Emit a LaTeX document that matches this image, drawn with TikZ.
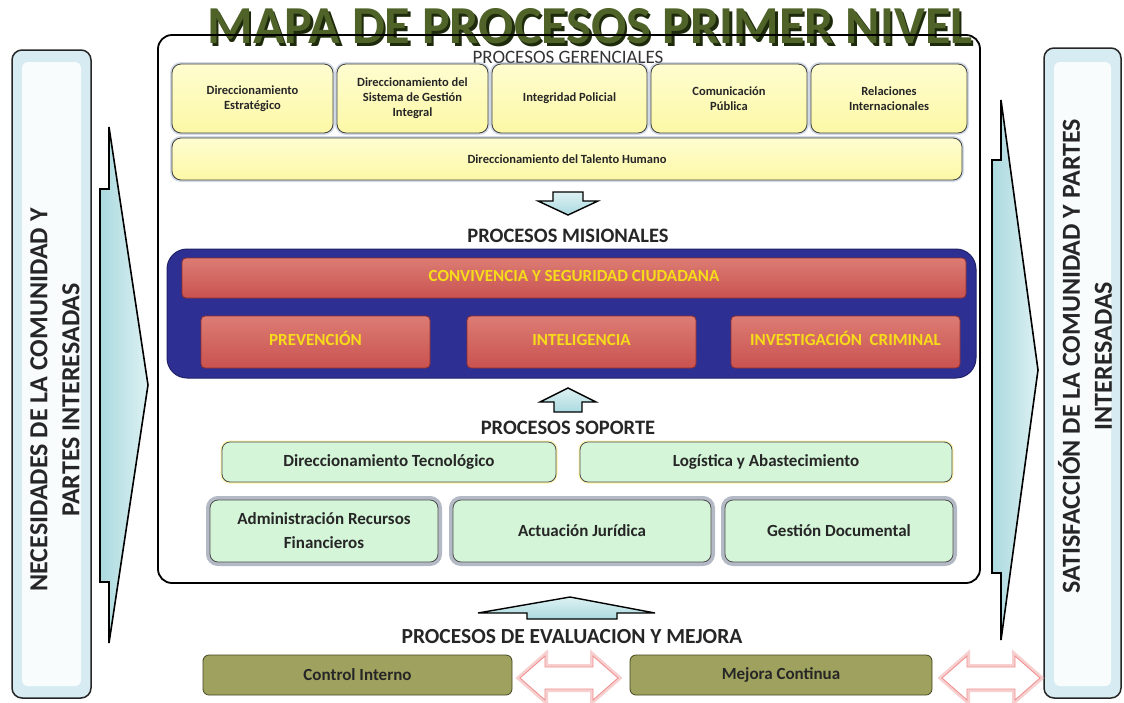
\documentclass[tikz,border=0pt]{standalone}
\usepackage{fontspec}
\setmainfont{Carlito}
\definecolor{titlegreen}{HTML}{4F6228}
\definecolor{titleshadow}{HTML}{1E2A0C}
\definecolor{yfill}{HTML}{FCF8A6}
\definecolor{ytop}{HTML}{FFFDD0}
\definecolor{redf}{HTML}{C9524F}
\definecolor{redtop}{HTML}{DC7C74}
\definecolor{redline}{HTML}{8E2E2C}
\definecolor{bluef}{HTML}{2E2F93}
\definecolor{goldtext}{HTML}{F7DC1A}
\definecolor{mint}{HTML}{D4F5D8}
\definecolor{olive}{HTML}{9FA25E}
\definecolor{oliveline}{HTML}{44461F}
\definecolor{teal}{HTML}{ABDADF}
\definecolor{teallight}{HTML}{DDF1F3}
\definecolor{sidecyan}{HTML}{D6ECF2}
\definecolor{pinkglow}{HTML}{F4A9A9}
\definecolor{pinkline}{HTML}{EE8A8A}
\definecolor{glowblue}{HTML}{7F95B5}
\begin{document}
\begin{tikzpicture}[x=1pt,y=-1pt,
  ybox/.style={draw=black!75, line width=0.8pt, rounded corners=9pt, top color=ytop, bottom color=yfill,
     preaction={draw=glowblue, line width=4pt, opacity=0.35},
     align=center, font=\fontsize{12.5}{15}\selectfont\bfseries, text=black!85},
  rbox/.style={draw=redline, line width=0.8pt, rounded corners=4pt, top color=redtop, bottom color=redf,
     align=center, font=\fontsize{17}{20}\selectfont\bfseries, text=goldtext, text height=0.68em, text depth=0.02em},
  gbox/.style={draw=black!70, line width=0.8pt, rounded corners=8pt, fill=mint,
     align=center, font=\fontsize{17}{24}\selectfont\bfseries, text=black!85},
  gboxa/.style={gbox, preaction={draw=yellow!80!orange, line width=3pt, opacity=0.35}},
  gboxb/.style={gbox, preaction={draw=glowblue!70!black, line width=8pt, opacity=0.45}},
  obox/.style={draw=oliveline, line width=0.8pt, rounded corners=6pt, fill=olive,
     align=center, font=\fontsize{17}{20}\selectfont\bfseries, text=black!85},
  heading/.style={font=\fontsize{20.5}{24}\selectfont\bfseries, text=black!85},
  sidebox/.style={draw=black!85, line width=1.5pt, rounded corners=10pt, fill=sidecyan},
  sidetext/.style={rotate=90, align=center, font=\fontsize{26}{32}\selectfont\bfseries, text=black!85},
  bigarrow/.style={draw=black, line width=1.6pt, line join=miter, left color=teal, right color=teallight},
  smallarrow/.style={draw=black, line width=1.4pt, line join=miter, top color=teallight, bottom color=teal},
  pinkarrow/.style={fill=white, draw=pinkline, line width=0.8pt, line join=miter,
     preaction={draw=pinkglow, line width=6pt, opacity=0.55}},
  pics/dblarrow/.style={code={
     \draw[pinkarrow] (0,0) -- (25,-22) -- (25,-11) -- (73,-11) -- (73,-22) -- (98,0)
        -- (73,22) -- (73,11) -- (25,11) -- (25,22) -- cycle;}}
]
\useasboundingbox (0,0) rectangle (1124,702);
\fill[white] (0,0) rectangle (1124,702);

% side boxes
\node[sidebox, minimum width=79, minimum height=648] (leftbox) at (51.5,374) {};
\fill[white, opacity=0.85, rounded corners=6pt] (22,62) rectangle (81,686);
\node[sidetext] (lefttext) at (55,400) {NECESIDADES DE LA COMUNIDAD Y\\PARTES INTERESADAS};
\node[sidebox, minimum width=77, minimum height=650] (rightbox) at (1082.5,373) {};
\fill[white, opacity=0.85, rounded corners=6pt] (1054,62) rectangle (1111,686);
\node[sidetext] (righttext) at (1085,356) {SATISFACCIÓN DE LA COMUNIDAD Y PARTES\\INTERESADAS};

% big side arrows
\draw[bigarrow] (100,189) -- (109,189) -- (109,127) -- (148,385) -- (109,643) -- (109,582) -- (100,582) -- cycle;
\draw[bigarrow] (992,160) -- (1001,160) -- (1001,100) -- (1038,370) -- (1001,640) -- (1001,573) -- (992,573) -- cycle;

% title
\node[text=titleshadow] (titleshadow) at (592.5,29) {\resizebox{765pt}{35pt}{\bfseries MAPA DE PROCESOS PRIMER NIVEL}};
\node[text=titlegreen] (title) at (590,26.5) {\resizebox{765pt}{35pt}{\bfseries MAPA DE PROCESOS PRIMER NIVEL}};

% main frame
\draw[line width=1.8pt, rounded corners=14pt] (158,35) rectangle (980,583);

% gerenciales
\node[font=\fontsize{19}{22}\selectfont, text=black!80] (hger) at (568,57) {PROCESOS GERENCIALES};
\node[ybox, minimum width=161, minimum height=69] (g1) at (252.5,98.5) {Direccionamiento\\Estratégico};
\node[ybox, minimum width=151, minimum height=69] (g2) at (412.5,98.5) {Direccionamiento del\\Sistema de Gestión\\Integral};
\node[ybox, minimum width=155, minimum height=69] (g3) at (569.5,98.5) {Integridad Policial};
\node[ybox, minimum width=156, minimum height=69] (g4) at (729,98.5) {Comunicación\\Pública};
\node[ybox, minimum width=156, minimum height=69] (g5) at (889,98.5) {Relaciones\\Internacionales};
\node[ybox, minimum width=790, minimum height=42] (g6) at (567,159) {Direccionamiento del Talento Humano};

% down arrow
\draw[smallarrow] (553,192) -- (583,192) -- (583,201) -- (598,201) -- (568,215) -- (538,201) -- (553,201) -- cycle;

% misionales
\node[heading] (hmis) at (568,236) {PROCESOS MISIONALES};
\node[draw=bluef!70!black, line width=1pt, fill=bluef, rounded corners=20pt, minimum width=809, minimum height=129] (blue) at (571.5,313.5) {};
\node[rbox, minimum width=784, minimum height=40] (m1) at (574,278) {CONVIVENCIA Y SEGURIDAD CIUDADANA};
\node[rbox, minimum width=229, minimum height=52] (m2) at (315.5,342) {PREVENCIÓN};
\node[rbox, minimum width=229, minimum height=52] (m3) at (581.5,342) {INTELIGENCIA};
\node[rbox, minimum width=229, minimum height=52] (m4) at (845.5,342) {INVESTIGACIÓN\ \ CRIMINAL};

% up arrow
\draw[smallarrow] (568,388) -- (596,402) -- (582,402) -- (582,412) -- (554,412) -- (554,402) -- (540,402) -- cycle;

% soporte
\node[heading] (hsop) at (568,428) {PROCESOS SOPORTE};
\node[gboxa, minimum width=334, minimum height=40] (s1) at (389,462) {Direccionamiento Tecnológico};
\node[gboxa, minimum width=372, minimum height=40] (s2) at (766,462) {Logística y Abastecimiento};
\node[gboxb, minimum width=228, minimum height=62] (s3) at (324,531) {Administración Recursos\\Financieros};
\node[gboxb, minimum width=258, minimum height=62] (s4) at (582,531) {Actuación Jurídica};
\node[gboxb, minimum width=228, minimum height=62] (s5) at (839,531) {Gestión Documental};

% evaluation arrow
\draw[smallarrow] (570,597) -- (655,613) -- (617,613) -- (617,619) -- (527,619) -- (527,613) -- (478,613) -- cycle;
\node[font=\fontsize{21.5}{25}\selectfont\bfseries, text=black!85] (hev) at (572,637) {PROCESOS DE EVALUACION Y MEJORA};
\node[obox, minimum width=309, minimum height=40] (e1) at (357.5,675) {Control Interno};
\node[obox, minimum width=302, minimum height=40] (e2) at (781,675) {Mejora Continua};

% pink double arrows
\pic at (520,678) {dblarrow};
\pic at (942,678) {dblarrow};
\end{tikzpicture}
\end{document}
